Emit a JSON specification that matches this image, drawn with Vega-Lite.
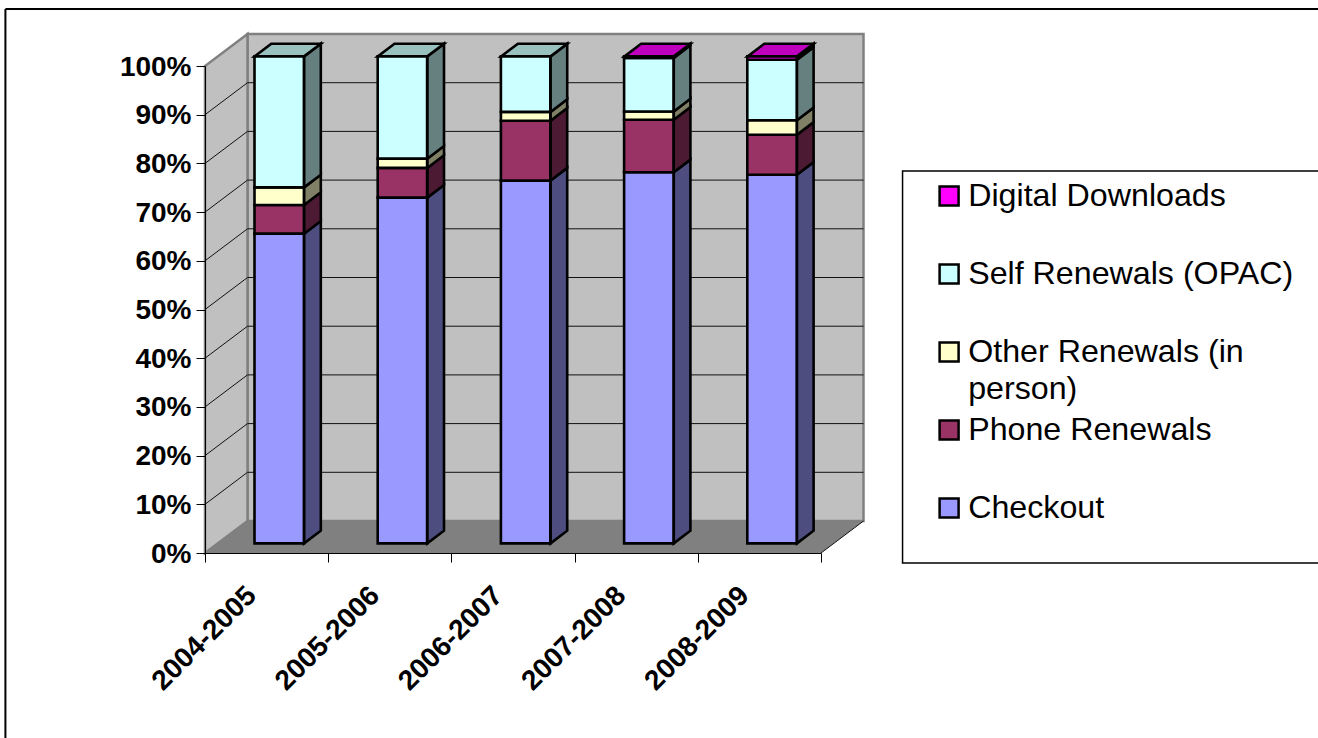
{
"$schema":"https://vega.github.io/schema/vega-lite/v6.json",
"width":616,"height":487,
"autosize":{"type":"none"},
"padding":{"left":205,"top":66,"right":497,"bottom":185},
"background":"white",
"config":{"view":{"stroke":null},"font":"Liberation Sans"},
"datasets":{
"bars":[
{"year":"2004-2005","series":"Checkout","order":1,"value":63.6},
{"year":"2004-2005","series":"Phone Renewals","order":2,"value":5.9},
{"year":"2004-2005","series":"Other Renewals (in person)","order":3,"value":3.6},
{"year":"2004-2005","series":"Self Renewals (OPAC)","order":4,"value":26.9},
{"year":"2005-2006","series":"Checkout","order":1,"value":71},
{"year":"2005-2006","series":"Phone Renewals","order":2,"value":6.1},
{"year":"2005-2006","series":"Other Renewals (in person)","order":3,"value":1.9},
{"year":"2005-2006","series":"Self Renewals (OPAC)","order":4,"value":21},
{"year":"2006-2007","series":"Checkout","order":1,"value":74.5},
{"year":"2006-2007","series":"Phone Renewals","order":2,"value":12.3},
{"year":"2006-2007","series":"Other Renewals (in person)","order":3,"value":1.8},
{"year":"2006-2007","series":"Self Renewals (OPAC)","order":4,"value":11.4},
{"year":"2007-2008","series":"Checkout","order":1,"value":76.2},
{"year":"2007-2008","series":"Phone Renewals","order":2,"value":10.8},
{"year":"2007-2008","series":"Other Renewals (in person)","order":3,"value":1.7},
{"year":"2007-2008","series":"Self Renewals (OPAC)","order":4,"value":11},
{"year":"2007-2008","series":"Digital Downloads","order":5,"value":0.3},
{"year":"2008-2009","series":"Checkout","order":1,"value":75.7},
{"year":"2008-2009","series":"Phone Renewals","order":2,"value":8.2},
{"year":"2008-2009","series":"Other Renewals (in person)","order":3,"value":3},
{"year":"2008-2009","series":"Self Renewals (OPAC)","order":4,"value":12.4},
{"year":"2008-2009","series":"Digital Downloads","order":5,"value":0.7}
],
"sides":[
{"year":"2004-2005","series":"Checkout","u":0.804,"lo":0,"hi":63.6},{"year":"2004-2005","series":"Checkout","u":0.94,"lo":2.61,"hi":66.21},
{"year":"2004-2005","series":"Phone Renewals","u":0.804,"lo":63.6,"hi":69.5},{"year":"2004-2005","series":"Phone Renewals","u":0.94,"lo":66.21,"hi":72.11},
{"year":"2004-2005","series":"Other Renewals (in person)","u":0.804,"lo":69.5,"hi":73.1},{"year":"2004-2005","series":"Other Renewals (in person)","u":0.94,"lo":72.11,"hi":75.71},
{"year":"2004-2005","series":"Self Renewals (OPAC)","u":0.804,"lo":73.1,"hi":100},{"year":"2004-2005","series":"Self Renewals (OPAC)","u":0.94,"lo":75.71,"hi":102.61},
{"year":"2005-2006","series":"Checkout","u":1.804,"lo":0,"hi":71},{"year":"2005-2006","series":"Checkout","u":1.94,"lo":2.61,"hi":73.61},
{"year":"2005-2006","series":"Phone Renewals","u":1.804,"lo":71,"hi":77.1},{"year":"2005-2006","series":"Phone Renewals","u":1.94,"lo":73.61,"hi":79.71},
{"year":"2005-2006","series":"Other Renewals (in person)","u":1.804,"lo":77.1,"hi":79},{"year":"2005-2006","series":"Other Renewals (in person)","u":1.94,"lo":79.71,"hi":81.61},
{"year":"2005-2006","series":"Self Renewals (OPAC)","u":1.804,"lo":79,"hi":100},{"year":"2005-2006","series":"Self Renewals (OPAC)","u":1.94,"lo":81.61,"hi":102.61},
{"year":"2006-2007","series":"Checkout","u":2.805,"lo":0,"hi":74.5},{"year":"2006-2007","series":"Checkout","u":2.94,"lo":2.61,"hi":77.11},
{"year":"2006-2007","series":"Phone Renewals","u":2.805,"lo":74.5,"hi":86.8},{"year":"2006-2007","series":"Phone Renewals","u":2.94,"lo":77.11,"hi":89.41},
{"year":"2006-2007","series":"Other Renewals (in person)","u":2.805,"lo":86.8,"hi":88.6},{"year":"2006-2007","series":"Other Renewals (in person)","u":2.94,"lo":89.41,"hi":91.21},
{"year":"2006-2007","series":"Self Renewals (OPAC)","u":2.805,"lo":88.6,"hi":100},{"year":"2006-2007","series":"Self Renewals (OPAC)","u":2.94,"lo":91.21,"hi":102.61},
{"year":"2007-2008","series":"Checkout","u":3.805,"lo":0,"hi":76.2},{"year":"2007-2008","series":"Checkout","u":3.94,"lo":2.61,"hi":78.81},
{"year":"2007-2008","series":"Phone Renewals","u":3.805,"lo":76.2,"hi":87},{"year":"2007-2008","series":"Phone Renewals","u":3.94,"lo":78.81,"hi":89.61},
{"year":"2007-2008","series":"Other Renewals (in person)","u":3.805,"lo":87,"hi":88.7},{"year":"2007-2008","series":"Other Renewals (in person)","u":3.94,"lo":89.61,"hi":91.31},
{"year":"2007-2008","series":"Self Renewals (OPAC)","u":3.805,"lo":88.7,"hi":99.7},{"year":"2007-2008","series":"Self Renewals (OPAC)","u":3.94,"lo":91.31,"hi":102.31},
{"year":"2007-2008","series":"Digital Downloads","u":3.805,"lo":99.7,"hi":100},{"year":"2007-2008","series":"Digital Downloads","u":3.94,"lo":102.31,"hi":102.61},
{"year":"2008-2009","series":"Checkout","u":4.805,"lo":0,"hi":75.7},{"year":"2008-2009","series":"Checkout","u":4.94,"lo":2.61,"hi":78.31},
{"year":"2008-2009","series":"Phone Renewals","u":4.805,"lo":75.7,"hi":83.9},{"year":"2008-2009","series":"Phone Renewals","u":4.94,"lo":78.31,"hi":86.51},
{"year":"2008-2009","series":"Other Renewals (in person)","u":4.805,"lo":83.9,"hi":86.9},{"year":"2008-2009","series":"Other Renewals (in person)","u":4.94,"lo":86.51,"hi":89.51},
{"year":"2008-2009","series":"Self Renewals (OPAC)","u":4.805,"lo":86.9,"hi":99.3},{"year":"2008-2009","series":"Self Renewals (OPAC)","u":4.94,"lo":89.51,"hi":101.91},
{"year":"2008-2009","series":"Digital Downloads","u":4.805,"lo":99.3,"hi":100},{"year":"2008-2009","series":"Digital Downloads","u":4.94,"lo":101.91,"hi":102.61}
],
"tops":[
{"year":"2004-2005","series":"Self Renewals (OPAC)","p":100,"u0":0.402,"u1":0.804},{"year":"2004-2005","series":"Self Renewals (OPAC)","p":102.61,"u0":0.538,"u1":0.94},
{"year":"2005-2006","series":"Self Renewals (OPAC)","p":100,"u0":1.402,"u1":1.804},{"year":"2005-2006","series":"Self Renewals (OPAC)","p":102.61,"u0":1.538,"u1":1.94},
{"year":"2006-2007","series":"Self Renewals (OPAC)","p":100,"u0":2.404,"u1":2.805},{"year":"2006-2007","series":"Self Renewals (OPAC)","p":102.61,"u0":2.54,"u1":2.94},
{"year":"2007-2008","series":"Digital Downloads","p":100,"u0":3.404,"u1":3.805},{"year":"2007-2008","series":"Digital Downloads","p":102.61,"u0":3.54,"u1":3.94},
{"year":"2008-2009","series":"Digital Downloads","p":100,"u0":4.404,"u1":4.805},{"year":"2008-2009","series":"Digital Downloads","p":102.61,"u0":4.54,"u1":4.94}
],
"gridlines":[
{"u0":0,"u1":0.345,"lo":10,"hi":16.57},{"u0":0.345,"u1":5.345,"lo":16.57,"hi":16.57},
{"u0":0,"u1":0.345,"lo":20,"hi":26.57},{"u0":0.345,"u1":5.345,"lo":26.57,"hi":26.57},
{"u0":0,"u1":0.345,"lo":30,"hi":36.57},{"u0":0.345,"u1":5.345,"lo":36.57,"hi":36.57},
{"u0":0,"u1":0.345,"lo":40,"hi":46.57},{"u0":0.345,"u1":5.345,"lo":46.57,"hi":46.57},
{"u0":0,"u1":0.345,"lo":50,"hi":56.57},{"u0":0.345,"u1":5.345,"lo":56.57,"hi":56.57},
{"u0":0,"u1":0.345,"lo":60,"hi":66.57},{"u0":0.345,"u1":5.345,"lo":66.57,"hi":66.57},
{"u0":0,"u1":0.345,"lo":70,"hi":76.57},{"u0":0.345,"u1":5.345,"lo":76.57,"hi":76.57},
{"u0":0,"u1":0.345,"lo":80,"hi":86.57},{"u0":0.345,"u1":5.345,"lo":86.57,"hi":86.57},
{"u0":0,"u1":0.345,"lo":90,"hi":96.57},{"u0":0.345,"u1":5.345,"lo":96.57,"hi":96.57},
{"u0":5,"u1":5.345,"lo":0,"hi":6.57}
],
"frame":[
{"u0":-1.62,"u1":9.05,"lo":111.7,"hi":111.7},
{"u0":-1.62,"u1":-1.62,"lo":111.7,"hi":-40}
]
},
"layer":[
{"data":{"name":"frame"},"mark":{"type":"rule","stroke":"#000000","strokeWidth":2},
"encoding":{"x":{"field":"u0","type":"quantitative","scale":{"domain":[0,5],"nice":false,"zero":false},"axis":null},"x2":{"field":"u1"},
"y":{"field":"lo","type":"quantitative","scale":{"domain":[0,100],"nice":false,"zero":false},
"axis":{"values":[0,10,20,30,40,50,60,70,80,90,100],"labelExpr":"datum.label+'%'","title":null,"grid":false,"zindex":2,"tickSize":9,"tickColor":"#000000","domainColor":"#000000","labelFont":"Liberation Sans","labelFontWeight":"bold","labelFontSize":28,"labelColor":"#000000","labelPadding":5,"labelOffset":1}},"y2":{"field":"hi"}}},
{"data":{"values":[{"u0":5.662,"u1":9.1,"lo":-2.05,"hi":78.44}]},"mark":{"type":"rect","fill":"#ffffff","stroke":"#000000","strokeWidth":1.5},
"encoding":{"x":{"field":"u0","type":"quantitative","scale":{"domain":[0,5],"nice":false,"zero":false},"axis":null},"x2":{"field":"u1"},"y":{"field":"lo","type":"quantitative","axis":null},"y2":{"field":"hi"}}},
{"data":{"values":[{"u0":0.345,"u1":5.345,"lo":6.57,"hi":106.57}]},"mark":{"type":"rect","fill":"#C0C0C0","stroke":"#808080","strokeWidth":2.5},
"encoding":{"x":{"field":"u0","type":"quantitative","scale":{"domain":[0,5],"nice":false,"zero":false},"axis":null},"x2":{"field":"u1"},"y":{"field":"lo","type":"quantitative","axis":null},"y2":{"field":"hi"}}},
{"data":{"values":[{"u":0,"lo":0,"hi":100},{"u":0.345,"lo":6.57,"hi":106.57}]},"mark":{"type":"area","fill":"#C0C0C0","stroke":"#808080","strokeWidth":2.5},
"encoding":{"x":{"field":"u","type":"quantitative","scale":{"domain":[0,5],"nice":false,"zero":false},"axis":null},"y":{"field":"lo","type":"quantitative","axis":null},"y2":{"field":"hi"}}},
{"data":{"values":[{"p":0,"u0":0,"u1":5},{"p":6.57,"u0":0.345,"u1":5.345}]},"mark":{"type":"area","orient":"horizontal","fill":"#808080"},
"encoding":{"y":{"field":"p","type":"quantitative","axis":null},"x":{"field":"u0","type":"quantitative","scale":{"domain":[0,5],"nice":false,"zero":false},"axis":null},"x2":{"field":"u1"}}},
{"data":{"name":"gridlines"},"mark":{"type":"rule","stroke":"#111111","strokeWidth":1},
"encoding":{"x":{"field":"u0","type":"quantitative","scale":{"domain":[0,5],"nice":false,"zero":false},"axis":null},"x2":{"field":"u1"},"y":{"field":"lo","type":"quantitative","axis":null},"y2":{"field":"hi"}}},
{"data":{"name":"sides"},"mark":{"type":"area","stroke":"#000000","strokeWidth":2.6,"yOffset":-9.6,"y2Offset":-9.6},
"encoding":{"x":{"field":"u","type":"quantitative","scale":{"domain":[0,5],"nice":false,"zero":false},"axis":null},"y":{"field":"lo","type":"quantitative","axis":null},"y2":{"field":"hi"},"detail":{"field":"year"},
"fill":{"field":"series","type":"nominal","legend":null,"scale":{"domain":["Digital Downloads","Self Renewals (OPAC)","Other Renewals (in person)","Phone Renewals","Checkout"],"range":["#800080","#668080","#808066","#4D1A33","#4D4D80"]}}}},
{"data":{"name":"tops"},"mark":{"type":"area","orient":"horizontal","stroke":"#000000","strokeWidth":2.6,"yOffset":-9.6},
"encoding":{"y":{"field":"p","type":"quantitative","axis":null},"x":{"field":"u0","type":"quantitative","scale":{"domain":[0,5],"nice":false,"zero":false},"axis":null},"x2":{"field":"u1"},"detail":{"field":"year"},
"fill":{"field":"series","type":"nominal","legend":null,"scale":{"domain":["Digital Downloads","Self Renewals (OPAC)"],"range":["#BF00BF","#99C2BF"]}}}},
{"data":{"name":"bars"},
"transform":[{"stack":"value","groupby":["year"],"sort":[{"field":"order","order":"ascending"}],"as":["start","end"]}],
"mark":{"type":"bar","stroke":"#000000","strokeWidth":2.6,"width":49.4,"xOffset":12.6,"yOffset":-9.6,"y2Offset":-9.6},
"encoding":{
"x":{"field":"year","type":"nominal","scale":{"type":"band","paddingInner":0,"paddingOuter":0},
"axis":{"title":null,"tickBand":"extent","labelAngle":-45,"labelAlign":"right","labelBaseline":"middle","labelFont":"Liberation Sans","labelFontWeight":"bold","labelFontSize":28,"labelColor":"#000000","tickSize":9,"tickColor":"#000000","domainColor":"#000000","labelPadding":29,"labelOffset":-15,"zindex":2,"labelOverlap":false}},
"y":{"field":"start","type":"quantitative","axis":null},"y2":{"field":"end"},
"fill":{"field":"series","type":"nominal","scale":{"domain":["Digital Downloads","Self Renewals (OPAC)","Other Renewals (in person)","Phone Renewals","Checkout"],"range":["#FF00FF","#CCFFFF","#FFFFCC","#993366","#9999FF"]},
"legend":{"title":null,"orient":"none","legendX":728,"legendY":114,"padding":0,"gridAlign":"all","symbolType":"square","symbolSize":361,"symbolStrokeColor":"#000000","symbolStrokeWidth":2.5,"labelFont":"Liberation Sans","labelFontSize":32.2,"labelColor":"#000000","labelLimit":0,"labelOffset":3,"labelBaseline":"middle","rowPadding":8,"labelExpr":"datum.label=='Other Renewals (in person)'?['Other Renewals (in','person)']:datum.label","encoding":{"labels":{"lineHeight":{"value":37}}}}}}}
],
"resolve":{"scale":{"x":"independent","fill":"independent"},"axis":{"x":"independent","y":"independent"}}
}
